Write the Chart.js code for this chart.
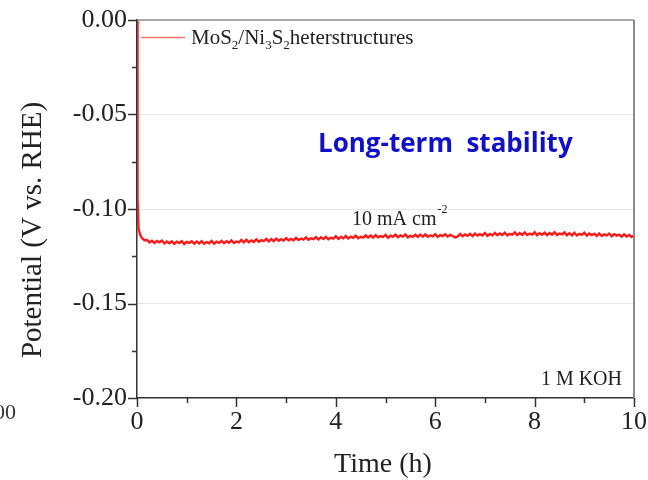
<!DOCTYPE html>
<html>
<head>
<meta charset="utf-8">
<script src="https://cdn.jsdelivr.net/npm/chart.js@4.4.1/dist/chart.umd.min.js"></script>
<style>
  body { margin: 0; background: #fff; }
  canvas { display: block; }
</style>
</head>
<body>
<canvas id="stability-chart" width="648" height="480"></canvas>
<script>
// 数据：初始阶段（0 - 0.15 h）
const startTime = [0, 0.01, 0.03, 0.06, 0.1, 0.15];
const startPotential = [0, -0.095, -0.110, -0.1135, -0.1155, -0.1165];

// 数据：稳定阶段，0.2 h 到 10 h，每 0.05 h 一个点
const steadyStart = 0.2;
const steadyStep = 0.05;
const steadyPotential = [
    -0.1164, -0.1177, -0.1168, -0.1180, -0.1169, -0.1176, -0.1167, -0.1182, -0.1172, -0.1181,
    -0.1171, -0.1184, -0.1173, -0.1180, -0.1170, -0.1185, -0.1174, -0.1179, -0.1171, -0.1183,
    -0.1172, -0.1182, -0.1170, -0.1184, -0.1175, -0.1181, -0.1169, -0.1183, -0.1173, -0.1179,
    -0.1168, -0.1181, -0.1170, -0.1178, -0.1166, -0.1180, -0.1172, -0.1177, -0.1164, -0.1176,
    -0.1163, -0.1176, -0.1166, -0.1174, -0.1161, -0.1173, -0.1165, -0.1170, -0.1158, -0.1171,
    -0.1159, -0.1170, -0.1157, -0.1168, -0.1160, -0.1167, -0.1154, -0.1166, -0.1158, -0.1165,
    -0.1153, -0.1164, -0.1156, -0.1162, -0.1150, -0.1163, -0.1155, -0.1160, -0.1149, -0.1161,
    -0.1150, -0.1159, -0.1147, -0.1160, -0.1152, -0.1157, -0.1144, -0.1158, -0.1148, -0.1155,
    -0.1143, -0.1156, -0.1146, -0.1153, -0.1141, -0.1155, -0.1147, -0.1152, -0.1140, -0.1151,
    -0.1140, -0.1151, -0.1138, -0.1150, -0.1143, -0.1148, -0.1137, -0.1152, -0.1141, -0.1147,
    -0.1136, -0.1149, -0.1140, -0.1146, -0.1135, -0.1150, -0.1142, -0.1147, -0.1137, -0.1148,
    -0.1135, -0.1146, -0.1134, -0.1147, -0.1139, -0.1145, -0.1133, -0.1148, -0.1138, -0.1144,
    -0.1134, -0.1145, -0.1137, -0.1143, -0.1150, -0.1146, -0.1132, -0.1144, -0.1135, -0.1142,
    -0.1131, -0.1143, -0.1130, -0.1141, -0.1133, -0.1140, -0.1127, -0.1142, -0.1132, -0.1139,
    -0.1126, -0.1139, -0.1129, -0.1137, -0.1125, -0.1140, -0.1131, -0.1136, -0.1124, -0.1138,
    -0.1127, -0.1137, -0.1124, -0.1138, -0.1130, -0.1135, -0.1123, -0.1139, -0.1128, -0.1136,
    -0.1125, -0.1138, -0.1127, -0.1136, -0.1123, -0.1137, -0.1130, -0.1134, -0.1124, -0.1139,
    -0.1128, -0.1139, -0.1126, -0.1140, -0.1131, -0.1137, -0.1125, -0.1141, -0.1130, -0.1138,
    -0.1131, -0.1142, -0.1129, -0.1143, -0.1134, -0.1140, -0.1130, -0.1145, -0.1133, -0.1141,
    -0.1136, -0.1146, -0.1134, -0.1145, -0.1137, -0.1148, -0.1140
];

// 坐标轴范围与刻度标签
const xMin = 0, xMax = 10, xStep = 1;
const yMin = -0.20, yMax = 0, yStep = 0.025;
const xTickLabels = ['0', '2', '4', '6', '8', '10'];
const yTickLabels = ['-0.20', '-0.15', '-0.10', '-0.05', '0.00'];

const seriesLabel = 'MoS2/Ni3S2heterstructures';

// 组装数据点
const points = [];
startTime.forEach((t, i) => points.push({ x: t, y: startPotential[i] }));
steadyPotential.forEach((v, i) => {
    points.push({ x: +(steadyStart + i * steadyStep).toFixed(2), y: v });
});

const serif = '"Liberation Serif", "DejaVu Serif", serif';

function yLabel(v) {
    return v.toFixed(2).replace('-0.00', '0.00');
}
function isMajorY(v) {
    return yTickLabels.includes(yLabel(v));
}

// 自定义绘制：刻度线、边框、图例、轴标题和标注文字
const decorPlugin = {
    id: 'decor',
    afterDraw(chart) {
        const ctx = chart.ctx;
        const area = chart.chartArea;
        const xs = chart.scales.x;
        const ys = chart.scales.y;
        ctx.save();

        // 右边框和上边框
        ctx.strokeStyle = '#8a8a8a';
        ctx.lineWidth = 2;
        ctx.beginPath();
        ctx.moveTo(area.right, area.top);
        ctx.lineTo(area.right, area.bottom);
        ctx.stroke();
        ctx.lineWidth = 1.5;
        ctx.beginPath();
        ctx.moveTo(area.left, area.top);
        ctx.lineTo(area.right, area.top);
        ctx.stroke();

        // 刻度线（主刻度长，次刻度短）
        ctx.strokeStyle = '#333';
        ctx.lineWidth = 1.5;
        ys.ticks.forEach(tk => {
            const py = Math.round(ys.getPixelForValue(tk.value)) + 0.5;
            const len = isMajorY(tk.value) ? 9 : 5;
            ctx.beginPath();
            ctx.moveTo(area.left - len, py);
            ctx.lineTo(area.left, py);
            ctx.stroke();
        });
        xs.ticks.forEach(tk => {
            const px = Math.round(xs.getPixelForValue(tk.value)) + 0.5;
            const len = xTickLabels.includes(String(tk.value)) ? 9 : 5;
            ctx.beginPath();
            ctx.moveTo(px, area.bottom);
            ctx.lineTo(px, area.bottom + len);
            ctx.stroke();
        });

        // 轴标题
        ctx.fillStyle = '#222';
        ctx.textAlign = 'center';
        ctx.textBaseline = 'alphabetic';
        ctx.font = '28px ' + serif;
        ctx.fillText('Time (h)', 383, 472);
        ctx.save();
        ctx.translate(41, 230);
        ctx.rotate(-Math.PI / 2);
        ctx.font = '29px ' + serif;
        ctx.fillText('Potential (V vs. RHE)', 0, 0);
        ctx.restore();

        // 图例
        ctx.strokeStyle = '#ff7070';
        ctx.lineWidth = 1.5;
        ctx.beginPath();
        ctx.moveTo(141, 37.5);
        ctx.lineTo(185, 37.5);
        ctx.stroke();

        ctx.textAlign = 'left';
        let lx = 191;
        const ly = 44;
        const parts = [['MoS', false], ['2', true], ['/Ni', false], ['3', true], ['S', false], ['2', true], ['heterstructures', false]];
        parts.forEach(([txt, sub]) => {
            ctx.font = (sub ? '13px ' : '21px ') + serif;
            ctx.fillText(txt, lx, sub ? ly + 5 : ly);
            lx += ctx.measureText(txt).width;
        });

        // 电流密度
        ctx.font = '20px ' + serif;
        ctx.fillText('10 mA cm', 352, 225);
        const w = ctx.measureText('10 mA cm').width;
        ctx.font = '12px ' + serif;
        ctx.fillText('-2', 352 + w + 1, 213);

        // 电解液
        ctx.font = '20px ' + serif;
        ctx.textAlign = 'right';
        ctx.fillText('1 M KOH', 622, 385);

        // 相邻图残留的刻度数字
        ctx.fillStyle = '#333';
        ctx.font = '22px ' + serif;
        ctx.fillText('00', 16, 419);

        // 蓝色标题
        ctx.fillStyle = '#1010c8';
        ctx.font = 'bold 26px "Open Sans", "Noto Sans", sans-serif';
        ctx.textAlign = 'left';
        ctx.fillText('Long-term  stability', 318, 152);

        ctx.restore();
    }
};

new Chart(document.getElementById('stability-chart'), {
    type: 'line',
    data: {
        datasets: [{
            label: seriesLabel,
            data: points,
            borderColor: '#ff1a1a',
            borderWidth: 2.4,
            pointRadius: 0,
            tension: 0,
            fill: false
        }]
    },
    options: {
        responsive: false,
        devicePixelRatio: 1,
        animation: false,
        layout: {
            padding: { top: 20, right: 14, left: 0, bottom: 0 }
        },
        plugins: {
            legend: { display: false },
            tooltip: { enabled: false }
        },
        scales: {
            x: {
                type: 'linear',
                min: xMin,
                max: xMax,
                afterFit: scale => {
                    scale.height = 82;
                    scale.paddingLeft = 0;
                    scale.paddingRight = 0;
                },
                ticks: {
                    stepSize: xStep,
                    autoSkip: false,
                    maxRotation: 0,
                    padding: 9,
                    color: '#222',
                    font: { family: serif, size: 26 },
                    callback: v => xTickLabels.includes(String(v)) ? String(v) : ''
                },
                grid: { display: false, drawTicks: false },
                border: { display: true, color: '#333', width: 1.5 }
            },
            y: {
                type: 'linear',
                min: yMin,
                max: yMax,
                afterFit: scale => {
                    scale.width = 137;
                    scale.paddingTop = 0;
                    scale.paddingBottom = 0;
                },
                ticks: {
                    stepSize: yStep,
                    autoSkip: false,
                    padding: 10,
                    color: '#222',
                    font: { family: serif, size: 26 },
                    callback: v => isMajorY(v) ? yLabel(v) : ''
                },
                grid: {
                    drawTicks: false,
                    color: c => (c.tick && isMajorY(c.tick.value) && c.tick.value > yMin + 0.001 && c.tick.value < yMax - 0.001) ? '#e6e6e6' : 'rgba(0,0,0,0)',
                    lineWidth: 1
                },
                border: { display: true, color: '#333', width: 1.5 }
            }
        }
    },
    plugins: [decorPlugin]
});
</script>
</body>
</html>
